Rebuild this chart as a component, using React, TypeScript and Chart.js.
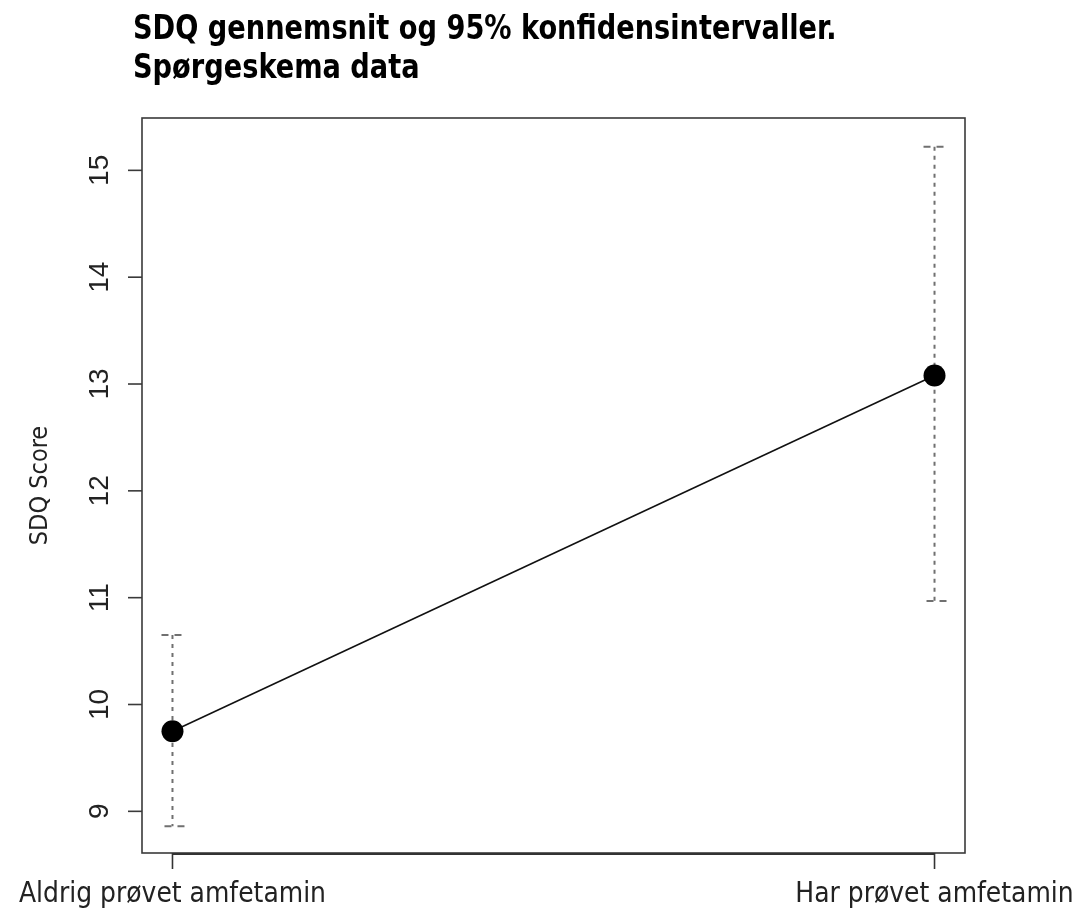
import React, { useEffect, useRef } from "react";
import { Chart, registerables } from "chart.js";

Chart.register(...registerables);

const categories = ["Aldrig prøvet amfetamin", "Har prøvet amfetamin"];
const categoryX = [1, 2];
const means = [9.75, 13.08];
const lowerCI = [8.86, 10.97];
const upperCI = [10.65, 15.22];
const yTicks = [9, 10, 11, 12, 13, 14, 15];
const titleLines = ["SDQ gennemsnit og 95% konfidensintervaller.", "Spørgeskema data"];
const yAxisTitle = "SDQ Score";

const condensed = "'Liberation Sans Narrow', 'DejaVu Sans Condensed', 'Roboto Condensed', sans-serif";

function scaledText(ctx: any, text: string, x: number, y: number, sx: number) {
  ctx.save();
  ctx.translate(x, y);
  ctx.scale(sx, 1);
  ctx.fillText(text, 0, 0);
  ctx.restore();
}

const rPlotPlugin = {
  id: "rPlot",
  beforeDatasetsDraw(chart: any) {
    const { ctx } = chart;
    const xs = chart.scales.x;
    const ys = chart.scales.y;
    ctx.save();
    ctx.strokeStyle = "#707070";
    ctx.lineWidth = 2;
    for (let i = 0; i < categoryX.length; i++) {
      const px = xs.getPixelForValue(categoryX[i]);
      const pl = ys.getPixelForValue(lowerCI[i]);
      const pu = ys.getPixelForValue(upperCI[i]);
      ctx.setLineDash([4, 5]);
      ctx.beginPath();
      ctx.moveTo(px, pu);
      ctx.lineTo(px, pl);
      ctx.stroke();
      ctx.setLineDash([7, 6]);
      ctx.beginPath();
      ctx.moveTo(px - 11, pu);
      ctx.lineTo(px + 11, pu);
      ctx.moveTo(px - 8, pl);
      ctx.lineTo(px + 14, pl);
      ctx.stroke();
    }
    ctx.restore();
  },
  afterDraw(chart: any) {
    const { ctx, chartArea } = chart;
    const xs = chart.scales.x;
    const ys = chart.scales.y;
    ctx.save();
    ctx.setLineDash([]);
    ctx.strokeStyle = "#3a3a3a";
    ctx.lineWidth = 1.6;
    ctx.strokeRect(chartArea.left, chartArea.top, chartArea.right - chartArea.left, chartArea.bottom - chartArea.top);

    // y axis ticks
    ctx.fillStyle = "#222";
    ctx.font = "28px 'Liberation Sans', Arial, sans-serif";
    ctx.textAlign = "center";
    ctx.textBaseline = "middle";
    for (const t of yTicks) {
      const py = ys.getPixelForValue(t);
      ctx.beginPath();
      ctx.moveTo(chartArea.left, py);
      ctx.lineTo(chartArea.left - 14, py);
      ctx.stroke();
      ctx.save();
      ctx.translate(chartArea.left - 42, py);
      ctx.rotate(-Math.PI / 2);
      ctx.fillText(String(t), 0, 0);
      ctx.restore();
    }
    // y axis title
    ctx.save();
    ctx.font = "25px " + condensed;
    ctx.translate(40, (chartArea.top + chartArea.bottom) / 2);
    ctx.rotate(-Math.PI / 2);
    ctx.fillText(yAxisTitle, 0, 0);
    ctx.restore();

    // x axis
    const x0 = xs.getPixelForValue(categoryX[0]);
    const x1 = xs.getPixelForValue(categoryX[categoryX.length - 1]);
    ctx.lineWidth = 2.2;
    ctx.strokeStyle = "#333";
    ctx.beginPath();
    ctx.moveTo(x0, chartArea.bottom + 1);
    ctx.lineTo(x1, chartArea.bottom + 1);
    ctx.stroke();
    ctx.lineWidth = 1.6;
    ctx.font = "29px " + condensed;
    for (let i = 0; i < categoryX.length; i++) {
      const px = xs.getPixelForValue(categoryX[i]);
      ctx.beginPath();
      ctx.moveTo(px, chartArea.bottom);
      ctx.lineTo(px, chartArea.bottom + 16);
      ctx.stroke();
      scaledText(ctx, categories[i], px, chartArea.bottom + 41, 0.96);
    }

    // title
    ctx.fillStyle = "#000";
    ctx.textAlign = "left";
    ctx.textBaseline = "alphabetic";
    ctx.font = "bold 33px " + condensed;
    scaledText(ctx, titleLines[0], 133, 39, 0.917);
    scaledText(ctx, titleLines[1], 133, 78, 0.917);
    ctx.restore();
  },
};

export default function App() {
  const ref = useRef<HTMLCanvasElement>(null);
  useEffect(() => {
    document.body.style.margin = "0";
    const chart = new Chart(ref.current!, {
      type: "line",
      data: {
        datasets: [
          {
            data: categoryX.map((x, i) => ({ x, y: means[i] })),
            borderColor: "#111",
            borderWidth: 1.6,
            pointRadius: 11,
            pointBackgroundColor: "#000",
            pointBorderColor: "#000",
            pointBorderWidth: 0,
            tension: 0,
          },
        ],
      },
      options: {
        animation: false,
        responsive: false,
        maintainAspectRatio: false,
        layout: { padding: { left: 142, right: 111, top: 118, bottom: 62 } },
        plugins: { legend: { display: false }, tooltip: { enabled: false }, title: { display: false } },
        scales: {
          x: { type: "linear", min: 0.96, max: 2.04, display: false },
          y: { type: "linear", min: 8.61, max: 15.49, display: false },
        },
      },
      plugins: [rPlotPlugin],
    });
    return () => chart.destroy();
  }, []);
  return (
    <div style={{ position: "relative", width: 1076, height: 915, background: "#fff" }}>
      <canvas ref={ref} width={1076} height={915} style={{ width: 1076, height: 915, display: "block" }} />
    </div>
  );
}
